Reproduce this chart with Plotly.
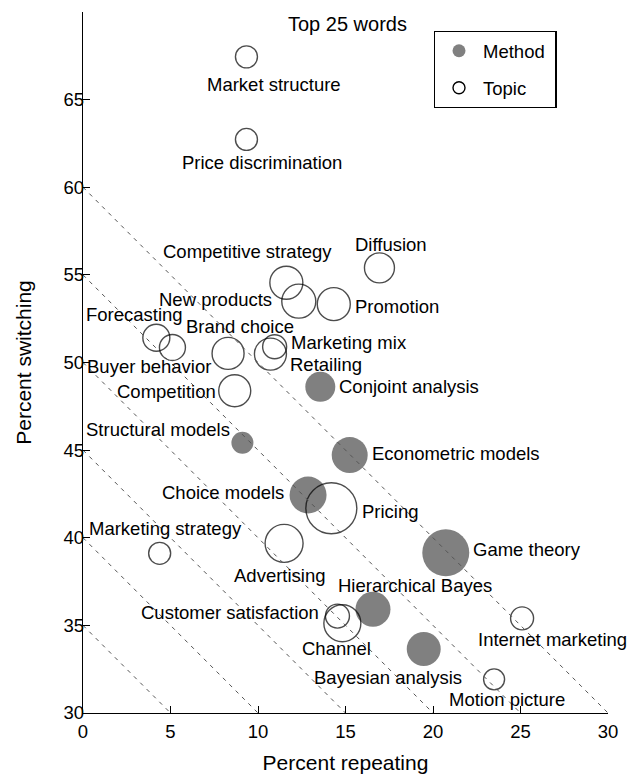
import plotly.graph_objects as go

# ---------------- data ----------------
words = [
    "Market structure", "Price discrimination", "Diffusion", "Competitive strategy",
    "New products", "Promotion", "Forecasting", "Buyer behavior", "Brand choice",
    "Marketing mix", "Retailing", "Competition", "Conjoint analysis",
    "Structural models", "Econometric models", "Choice models", "Pricing",
    "Game theory", "Marketing strategy", "Advertising", "Hierarchical Bayes",
    "Customer satisfaction", "Channel", "Bayesian analysis", "Internet marketing",
    "Motion picture",
]
pct_repeating = [9.34, 9.34, 16.94, 11.62, 12.33, 14.33, 4.19, 5.11, 8.29, 10.95,
                 10.71, 8.67, 13.56, 9.11, 15.24, 12.86, 14.19, 20.73, 4.38, 11.49,
                 16.57, 14.54, 14.82, 19.47, 25.09, 23.49]
pct_switching = [67.44, 62.73, 55.40, 54.55, 53.50, 53.33, 51.41, 50.86, 50.52, 50.90,
                 50.48, 48.39, 48.61, 45.42, 44.72, 42.44, 41.68, 39.14, 39.11, 39.68,
                 35.92, 35.53, 35.12, 33.65, 35.40, 31.92]
word_type = ["Topic", "Topic", "Topic", "Topic", "Topic", "Topic", "Topic", "Topic",
             "Topic", "Topic", "Topic", "Topic", "Method", "Method", "Method", "Method",
             "Topic", "Method", "Topic", "Topic", "Method", "Topic", "Topic", "Method",
             "Topic", "Topic"]
bubble_size = [23, 23, 31, 34, 35, 34, 28, 27, 33, 25, 33, 33, 30, 22, 36, 37, 52, 47,
               23, 39, 35, 25, 38, 34, 24, 22]
diag_totals = [35, 40, 45, 50, 55, 60]
x_ticks = [0, 5, 10, 15, 20, 25, 30]
y_ticks = [30, 35, 40, 45, 50, 55, 60, 65]

# ---------------- styles ----------------
FONT = "Liberation Sans, Arial, Helvetica, sans-serif"
GRAY = "#808080"
LBL = 18.5
# label placement: (xanchor, dx px, dy px downward)
label_style = [
    ("center", 28, 28), ("center", 16, 23), ("center", 12, -23), ("center", -39, -31),
    ("right", -25, -2), ("left", 19, 2), ("center", -22, -23), ("center", -23, 19),
    ("center", 12, -27), ("left", 14, -4), ("left", 18, 10), ("right", -17, 1),
    ("left", 17, 0), ("right", -10, -13), ("left", 20, -2), ("right", -22, -2),
    ("left", 29, 3), ("left", 25, -3), ("center", 6, -25), ("center", -4, 32),
    ("center", 42, -24), ("right", -16, -4), ("center", -6, 25), ("center", -36, 28),
    ("center", 30, 21), ("center", 13, 20),
]

fig = go.Figure()

meth = [i for i, t in enumerate(word_type) if t == "Method"]
topc = [i for i, t in enumerate(word_type) if t == "Topic"]

fig.add_trace(go.Scatter(
    x=[pct_repeating[i] for i in meth], y=[pct_switching[i] for i in meth],
    mode="markers", showlegend=False, hoverinfo="skip",
    marker=dict(size=[bubble_size[i] for i in meth], color=GRAY,
                line=dict(width=0), symbol="circle", opacity=1),
))
fig.add_trace(go.Scatter(
    x=[pct_repeating[i] for i in topc], y=[pct_switching[i] for i in topc],
    mode="markers", showlegend=False, hoverinfo="skip",
    marker=dict(size=[bubble_size[i] - 1 for i in topc], color="black",
                symbol="circle-open", line=dict(width=1.4, color="black")),
))

# iso-total dashed lines (repeating + switching = constant)
for c in diag_totals:
    fig.add_trace(go.Scatter(
        x=[0, c - y_ticks[0]], y=[c, y_ticks[0]], mode="lines",
        showlegend=False, hoverinfo="skip",
        line=dict(color="#555555", width=1, dash="4px,5px"),
    ))

# legend entries
fig.add_trace(go.Scatter(x=[None], y=[None], mode="markers", name="Method\u00a0",
                         legendgroup="m",
                         marker=dict(size=13, color=GRAY, line=dict(width=0))))
fig.add_trace(go.Scatter(x=[None], y=[None], mode="markers", name="Topic",
                         legendgroup="t",
                         marker=dict(size=12, color="black", symbol="circle-open",
                                     line=dict(width=1.4, color="black"))))

for i, w in enumerate(words):
    anc, dx, dy = label_style[i]
    fig.add_annotation(x=pct_repeating[i], y=pct_switching[i], text=w,
                       showarrow=False, xanchor=anc, yanchor="middle",
                       xshift=dx, yshift=-dy,
                       font=dict(family=FONT, size=LBL, color="black"))

fig.add_annotation(x=0.504, y=0.983, xref="paper", yref="paper", text="Top 25 words",
                   showarrow=False, xanchor="center", yanchor="middle",
                   font=dict(family=FONT, size=20, color="black"))

# page has an 8px body margin: figure is 628x766 so plot area lands where the
# reference has it
fig.update_layout(
    width=628, height=766, autosize=False,
    margin=dict(l=75, r=28, t=4, b=61),
    paper_bgcolor="white", plot_bgcolor="white",
    font=dict(family=FONT, size=LBL, color="black"),
    legend=dict(x=0.668, y=0.973, xanchor="left", yanchor="top",
                bordercolor="black", borderwidth=1.3, bgcolor="white",
                font=dict(family=FONT, size=LBL), tracegroupgap=10,
                itemsizing="trace", itemwidth=38),
    xaxis=dict(range=[0, 30], tickvals=x_ticks, ticks="inside", ticklen=7,
               tickcolor="black", showline=True, linecolor="black", linewidth=1.3,
               showgrid=False, zeroline=False, automargin=False,
               ticklabelstandoff=2,
               tickfont=dict(family=FONT, size=LBL),
               title=dict(text="Percent repeating", font=dict(family=FONT, size=21),
                          standoff=15)),
    yaxis=dict(range=[30, 70], tickvals=y_ticks, ticks="inside", ticklen=7,
               tickcolor="black", showline=True, linecolor="black", linewidth=1.3,
               showgrid=False, zeroline=False, automargin=False,
               ticklabelstandoff=-6,
               tickfont=dict(family=FONT, size=LBL),
               title=dict(text="Percent switching", font=dict(family=FONT, size=21),
                          standoff=26)),
)

fig.write_html("out.html")
